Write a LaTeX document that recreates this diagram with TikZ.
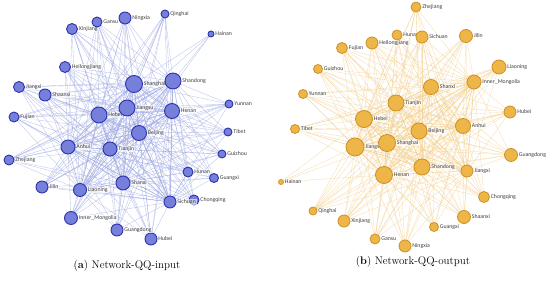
\documentclass[tikz,border=0pt]{standalone}
\usepackage{fontspec}
\newfontfamily\lblfont{Carlito}
\usetikzlibrary{backgrounds}

\definecolor{azulnodo}{RGB}{118,128,218}
\definecolor{azulborde}{RGB}{45,50,175}
\definecolor{azularista}{RGB}{160,170,226}
\definecolor{ocrenodo}{RGB}{238,182,72}
\definecolor{ocreborde}{RGB}{205,145,35}
\definecolor{ocrearista}{RGB}{242,208,145}

\tikzset{
  nodoin/.style={circle, draw=azulborde, fill=azulnodo, line width=0.9pt, inner sep=0pt},
  nodoout/.style={circle, draw=ocreborde, fill=ocrenodo, line width=0.8pt, inner sep=0pt},
  etiqueta/.style={font=\lblfont\fontsize{5.8}{7}\selectfont, text=black!75, inner sep=0.8pt,
    fill=white, fill opacity=0.6, text opacity=1},
  aristain/.style={azularista, line width=0.35pt, opacity=0.7},
  aristaout/.style={ocrearista, line width=0.35pt, opacity=0.7},
}

\begin{document}
\begin{tikzpicture}[x=1pt, y=-1pt]
        \useasboundingbox (0,0) rectangle (550,283);

        % Red de entrada (QQ-input)
        \foreach \n/\t/\x/\y/\r in {
            Xinjiang/Xinjiang/72/29/5.5, Gansu/Gansu/97/22/5, Ningxia/Ningxia/125/18/6,
            Qinghai/Qinghai/165/14/4, Hainan/Hainan/211/34/3, Heilongjiang/Heilongjiang/65/67/5.5,
            Jiangxi/Jiangxi/19/87/5.5, Shaanxi/Shaanxi/45/95/6, Fujian/Fujian/14/117/5,
            Hebei/Hebei/99/115/8, Jiangsu/Jiangsu/127/108/8, Shanghai/Shanghai/134/84/8.5,
            Shandong/Shandong/173/81/8, Henan/Henan/172/111/7.5, Beijing/Beijing/139/133/7.5,
            Tianjin/Tianjin/110/149/7, Anhui/Anhui/68/147/7, Yunnan/Yunnan/229/104/4,
            Tibet/Tibet/228/132/4, Guizhou/Guizhou/222/154/4, Hunan/Hunan/188/172/5,
            Guangxi/Guangxi/214/178/4.5, Chongqing/Chongqing/194/200/5, Sichuan/Sichuan/170/202/6,
            Shanxi/Shanxi/123/183/7, Hubei/Hubei/151/239/6, Guangdong/Guangdong/117/230/6,
            InnerMongolia/Inner\_Mongolia/71/218/6.5, Liaoning/Liaoning/80/190/6.5,
            Jilin/Jilin/42/187/6, Zhejiang/Zhejiang/9/160/5}
            \node[nodoin, minimum size={2*\r*1pt}, label={[etiqueta]right:\t}] (in-\n) at (\x,\y) {};

        % Aristas de entrada (detras de los nodos)
        \begin{scope}[on background layer]
            \foreach \h in {Shanghai,Jiangsu,Hebei,Shandong,Henan,Beijing,Tianjin,Anhui,Shanxi,Liaoning,Sichuan}
                \foreach \n in {Xinjiang,Gansu,Ningxia,Qinghai,Heilongjiang,Jiangxi,Shaanxi,Fujian,
                    Hebei,Jiangsu,Shanghai,Shandong,Henan,Beijing,Tianjin,Anhui,Yunnan,Tibet,Guizhou,
                    Hunan,Guangxi,Chongqing,Sichuan,Shanxi,Hubei,Guangdong,InnerMongolia,Liaoning,Jilin,Zhejiang}
                    \draw[aristain] (in-\h.center) -- (in-\n.center);
            \foreach \n in {Shanghai,Shandong,Jiangsu,Beijing}
                \draw[aristain] (in-Hainan.center) -- (in-\n.center);
        \end{scope}

        % Red de salida (QQ-output)
        \foreach \n/\t/\x/\y/\r in {
            Zhejiang/Zhejiang/416/7/5, Hunan/Hunan/397/35/5, Sichuan/Sichuan/422/37/6,
            Jilin/Jilin/466/36/6.5, Fujian/Fujian/342/48/5.5, Heilongjiang/Heilongjiang/372/43/6,
            Guizhou/Guizhou/318/69/4.5, Liaoning/Liaoning/499/67/7,
            InnerMongolia/Inner\_Mongolia/474/82/7, Shanxi/Shanxi/431/87/7.5,
            Yunnan/Yunnan/303/94/4.5, Tianjin/Tianjin/396/103/8, Hebei/Hebei/364/119/8.5,
            Tibet/Tibet/295/129/4.5, Beijing/Beijing/419/131/8, Hubei/Hubei/510/112/6,
            Anhui/Anhui/463/126/7.5, Jiangsu/Jiangsu/355/147/9, Shanghai/Shanghai/387/143/8.5,
            Guangdong/Guangdong/511/155/6.5, Henan/Henan/384/175/8.5, Shandong/Shandong/422/167/8,
            Jiangxi/Jiangxi/467/171/6, Hainan/Hainan/281/182/2.5, Chongqing/Chongqing/484/197/5.5,
            Qinghai/Qinghai/313/211/4, Xinjiang/Xinjiang/344/221/6, Shaanxi/Shaanxi/464/217/6.5,
            Guangxi/Guangxi/434/227/4.5, Gansu/Gansu/375/239/5, Ningxia/Ningxia/405/246/6}
            \node[nodoout, minimum size={2*\r*1pt}, label={[etiqueta]right:\t}] (out-\n) at (\x,\y) {};

        % Aristas de salida
        \begin{scope}[on background layer]
            \foreach \h in {Hebei,Jiangsu,Shanghai,Tianjin,Beijing,Henan,Shandong,Shanxi,Anhui,InnerMongolia,Jiangxi}
                \foreach \n in {Zhejiang,Hunan,Sichuan,Jilin,Fujian,Heilongjiang,Guizhou,Liaoning,
                    InnerMongolia,Shanxi,Yunnan,Tianjin,Hebei,Tibet,Beijing,Hubei,Anhui,Jiangsu,Shanghai,
                    Guangdong,Henan,Shandong,Jiangxi,Chongqing,Qinghai,Xinjiang,Shaanxi,Guangxi,Gansu,Ningxia}
                    \draw[aristaout] (out-\h.center) -- (out-\n.center);
            \foreach \n in {Jiangsu,Hebei,Shanghai,Henan}
                \draw[aristaout] (out-Hainan.center) -- (out-\n.center);
        \end{scope}

        % Leyendas
        \node[font=\fontsize{11}{13}\selectfont] (cap-in) at (127,266) {(\textbf{a}) Network-QQ-input};
        \node[font=\fontsize{11}{13}\selectfont] (cap-out) at (413,262) {(\textbf{b}) Network-QQ-output};
\end{tikzpicture}
\end{document}
